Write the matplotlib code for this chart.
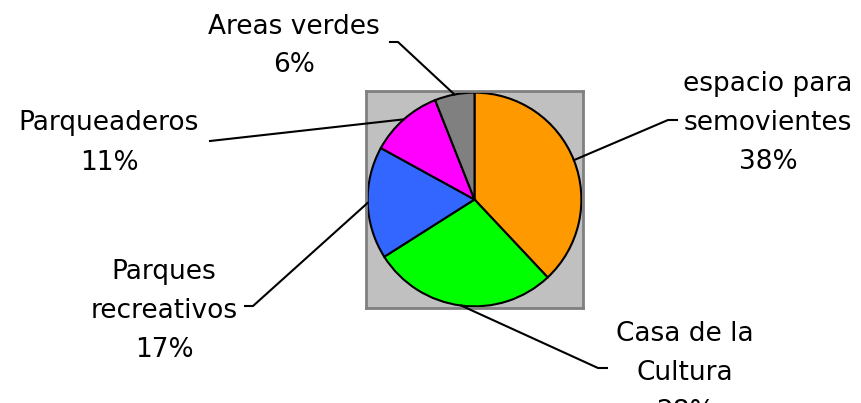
import numpy as np
import matplotlib
matplotlib.use("Agg")
import matplotlib.pyplot as plt
from matplotlib.lines import Line2D
from matplotlib.transforms import IdentityTransform

categories = ["espacio para\nsemovientes", "Casa de la\nCultura", "Parques\nrecreativos",
              "Parqueaderos", "Areas verdes"]
shares = [38, 28, 17, 11, 6]
colors = ["#FF9900", "#00FF00", "#3366FF", "#FF00FF", "#808080"]

W, H = 861, 403
plt.rcParams['font.family'] = ['DejaVu Sans']
fig = plt.figure(figsize=(W / 100, H / 100), dpi=100)

# plot area (gray square)
ax = fig.add_axes([366 / W, (H - 308) / H, 217 / W, 217 / H])
radius = 0.985
wedges, _ = ax.pie(shares, colors=colors, startangle=90, counterclock=False,
                   radius=radius, frame=True,
                   wedgeprops=dict(edgecolor="black", linewidth=1.5))
ax.set_facecolor("#C0C0C0")
for s in ax.spines.values():
    s.set_color("#808080")
    s.set_linewidth(2)
ax.set_xticks([])
ax.set_yticks([])
ax.set_xlim(-1, 1)
ax.set_ylim(-1, 1)
ax.set_aspect("equal")

# label layout in figure pixels (from top): text center, text-side end, elbow
layout = [
    ((768, 123), (677, 120), (668, 120)),
    ((685, 373), (607, 368), (598, 368)),
    ((164, 311), (245, 306), (253, 306)),
    ((109, 143), (210, 141), (210, 141)),
    ((294, 46), (390, 42), (398, 42)),
]

fig.canvas.draw()
for w, cat, pct, (tc, p0, p1) in zip(wedges, categories, shares, layout):
    ang = np.deg2rad((w.theta1 + w.theta2) / 2)
    anchor = ax.transData.transform((radius * np.cos(ang), radius * np.sin(ang)))
    xs = [p0[0], p1[0], anchor[0]]
    ys = [H - p0[1], H - p1[1], anchor[1]]
    fig.add_artist(Line2D(xs, ys, color="black", linewidth=1.5,
                          transform=IdentityTransform()))
    fig.text(tc[0] / W, 1 - tc[1] / H, f"{cat}\n{pct}%", ha="center", va="center",
             fontsize=19, linespacing=1.65, color="black")

fig.savefig("out.png", dpi=100)
